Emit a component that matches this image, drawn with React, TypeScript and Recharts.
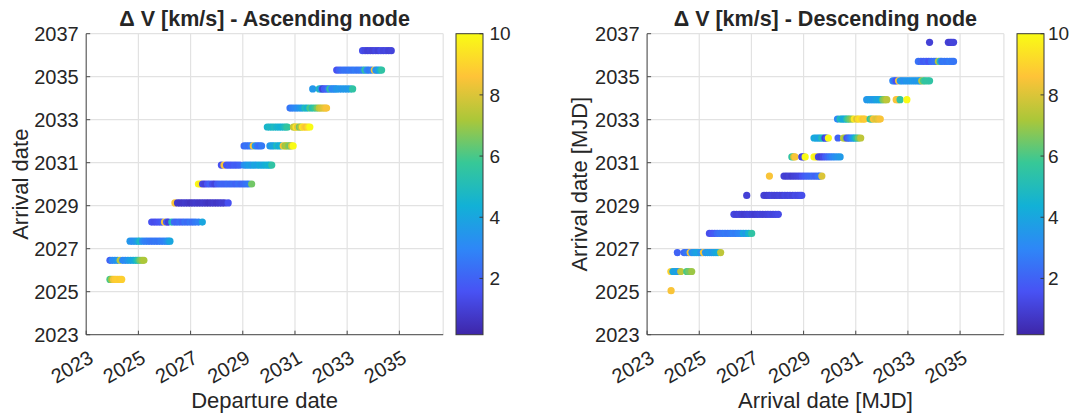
import React from 'react';
import { ScatterChart, Scatter, XAxis, YAxis, CartesianGrid } from 'recharts';

// ---- data (years, delta-v in km/s) ----
const yearTicks = [2023, 2025, 2027, 2029, 2031, 2033, 2035, 2037];
const depTicks = [2023, 2025, 2027, 2029, 2031, 2033, 2035];
const cbTicks = [2, 4, 6, 8, 10];

const ascArrival = [2025.57, 2026.46, 2027.35, 2028.24, 2029.13, 2030.01, 2030.89, 2031.78, 2032.66, 2033.54, 2034.43, 2035.31, 2036.21];
const ascDeparture = [
  [2023.91, 2023.98, 2024.05, 2024.12, 2024.2, 2024.28, 2024.36],
  [2023.91, 2024.0, 2024.1, 2024.2, 2024.3, 2024.4, 2024.5, 2024.6, 2024.7, 2024.8, 2024.9, 2024.98, 2025.06, 2025.14, 2025.21],
  [2024.68, 2024.78, 2024.88, 2024.98, 2025.06, 2025.16, 2025.26, 2025.36, 2025.46, 2025.56, 2025.66, 2025.76, 2025.86, 2025.96, 2026.06, 2026.14, 2026.21],
  [2025.51, 2025.61, 2025.71, 2025.81, 2025.9, 2026.0, 2026.08, 2026.15, 2026.28, 2026.38, 2026.48, 2026.58, 2026.68, 2026.78, 2026.88, 2026.98, 2027.08, 2027.18, 2027.3, 2027.45],
  [2026.4, 2026.5, 2026.6, 2026.7, 2026.8, 2026.9, 2027.0, 2027.1, 2027.2, 2027.3, 2027.4, 2027.5, 2027.6, 2027.7, 2027.8, 2027.9, 2028.0, 2028.1, 2028.2, 2028.3, 2028.44],
  [2027.3, 2027.38, 2027.46, 2027.55, 2027.65, 2027.74, 2027.84, 2027.93, 2028.03, 2028.13, 2028.23, 2028.33, 2028.43, 2028.53, 2028.63, 2028.73, 2028.83, 2028.93, 2029.03, 2029.13, 2029.23, 2029.34],
  [2028.18, 2028.28, 2028.38, 2028.48, 2028.58, 2028.68, 2028.78, 2028.89, 2029.05, 2029.15, 2029.25, 2029.35, 2029.45, 2029.55, 2029.65, 2029.75, 2029.85, 2029.95, 2030.03, 2030.11],
  [2029.05, 2029.14, 2029.23, 2029.32, 2029.4, 2029.48, 2029.56, 2029.64, 2029.72, 2030.04, 2030.12, 2030.2, 2030.3, 2030.38, 2030.46, 2030.55, 2030.62, 2030.68, 2030.75, 2030.81, 2030.87, 2030.93],
  [2029.94, 2030.03, 2030.12, 2030.21, 2030.3, 2030.39, 2030.48, 2030.57, 2030.65, 2030.71, 2030.94, 2030.99, 2031.04, 2031.1, 2031.17, 2031.23, 2031.29, 2031.35, 2031.42, 2031.5, 2031.57],
  [2030.81, 2030.9, 2031.0, 2031.09, 2031.19, 2031.28, 2031.38, 2031.47, 2031.57, 2031.66, 2031.76, 2031.85, 2031.93, 2032.0, 2032.08, 2032.15, 2032.21],
  [2031.68, 2031.93, 2032.0, 2032.06, 2032.13, 2032.21, 2032.28, 2032.34, 2032.41, 2032.47, 2032.54, 2032.6, 2032.7, 2032.8, 2032.9, 2033.0, 2033.11, 2033.21],
  [2032.6, 2032.7, 2032.8, 2032.9, 2033.0, 2033.1, 2033.2, 2033.3, 2033.4, 2033.5, 2033.6, 2033.68, 2033.76, 2033.84, 2033.94, 2034.04, 2034.1, 2034.17, 2034.25, 2034.32],
  [2033.59, 2033.69, 2033.79, 2033.89, 2033.99, 2034.09, 2034.19, 2034.29, 2034.39, 2034.49, 2034.59, 2034.69],
];
const ascDeltaV = [
  [6.0, 7.2, 8.4, 8.8, 8.9, 8.8, 8.9],
  [2.0, 3.0, 3.2, 3.5, 7.5, 3.0, 3.1, 3.5, 3.9, 4.0, 4.6, 5.5, 6.5, 7.0, 7.2],
  [3.5, 3.2, 3.4, 3.8, 4.8, 3.2, 2.8, 2.7, 2.6, 2.5, 2.6, 2.5, 2.7, 2.8, 3.0, 3.4, 4.0],
  [1.5, 1.4, 1.5, 1.6, 1.8, 8.5, 1.8, 1.0, 5.0, 2.2, 2.0, 2.3, 2.0, 2.4, 2.2, 2.5, 2.3, 2.6, 2.8, 4.0],
  [8.5, 0.8, 0.7, 0.7, 0.8, 0.7, 0.6, 0.7, 0.8, 0.7, 0.7, 0.8, 0.7, 0.6, 0.7, 0.8, 0.7, 0.8, 0.9, 0.9, 1.5],
  [10, 9.5, 1.2, 1.0, 1.6, 2.0, 1.4, 1.1, 1.8, 2.0, 2.1, 2.0, 2.2, 2.1, 2.2, 2.0, 2.3, 2.1, 2.2, 2.4, 2.6, 6.5],
  [1.5, 8.5, 1.6, 1.8, 1.7, 1.9, 1.8, 2.0, 3.2, 3.5, 3.8, 3.6, 4.0, 3.8, 4.2, 4.0, 4.3, 4.5, 4.4, 5.5],
  [2.2, 2.5, 2.3, 2.8, 8.5, 3.5, 2.5, 2.3, 2.6, 3.5, 3.8, 4.0, 5.0, 4.2, 4.5, 8.5, 7.0, 7.2, 6.8, 6.5, 8.0, 10],
  [4.6, 4.8, 4.7, 4.9, 4.6, 4.5, 4.4, 4.8, 5.2, 5.6, 7.5, 7.8, 9.5, 8.2, 6.5, 7.5, 9.5, 9.0, 8.5, 9.2, 10],
  [2.5, 2.8, 3.0, 3.2, 3.5, 3.8, 5.0, 4.5, 6.0, 5.2, 5.8, 6.5, 7.5, 7.8, 8.0, 8.3, 8.5],
  [3.5, 5.0, 3.5, 1.0, 1.8, 2.0, 2.6, 5.5, 3.0, 3.0, 3.2, 3.5, 3.6, 3.4, 3.6, 3.5, 3.7, 5.5],
  [1.5, 2.0, 2.3, 2.5, 2.4, 2.6, 2.5, 2.7, 2.5, 2.6, 2.8, 5.5, 3.0, 2.6, 2.8, 8.5, 3.2, 3.5, 4.5, 5.5],
  [1.4, 1.2, 1.0, 1.1, 1.0, 1.2, 1.0, 1.3, 1.1, 1.2, 1.0, 1.1],
];

const descArrival = [2025.05, 2025.94, 2026.82, 2027.71, 2028.6, 2029.48, 2030.38, 2031.27, 2032.15, 2033.03, 2033.93, 2034.81, 2035.71, 2036.6];
const descDeparture = [
  [2023.92],
  [2023.91, 2023.99, 2024.07, 2024.15, 2024.22, 2024.29, 2024.52, 2024.6, 2024.71],
  [2024.16, 2024.42, 2024.5, 2024.58, 2024.65, 2024.72, 2024.8, 2024.88, 2024.96, 2025.04, 2025.1, 2025.16, 2025.24, 2025.32, 2025.4, 2025.48, 2025.56, 2025.64, 2025.72, 2025.82],
  [2025.39, 2025.49, 2025.59, 2025.69, 2025.79, 2025.89, 2025.99, 2026.09, 2026.19, 2026.29, 2026.39, 2026.49, 2026.59, 2026.69, 2026.79, 2026.89, 2027.01],
  [2026.33, 2026.43, 2026.53, 2026.63, 2026.73, 2026.83, 2026.93, 2027.03, 2027.13, 2027.23, 2027.33, 2027.43, 2027.53, 2027.63, 2027.73, 2027.83, 2027.93, 2028.03],
  [2026.82, 2027.48, 2027.58, 2027.68, 2027.78, 2027.88, 2027.98, 2028.08, 2028.18, 2028.28, 2028.38, 2028.48, 2028.58, 2028.68, 2028.78, 2028.86, 2028.93],
  [2027.69, 2028.25, 2028.35, 2028.45, 2028.55, 2028.65, 2028.75, 2028.85, 2028.95, 2029.05, 2029.15, 2029.25, 2029.35, 2029.45, 2029.55, 2029.62, 2029.7],
  [2028.55, 2028.62, 2028.67, 2028.93, 2029.0, 2029.06, 2029.4, 2029.49, 2029.57, 2029.66, 2029.75, 2029.84, 2029.93, 2030.02, 2030.11, 2030.2, 2030.3, 2030.4],
  [2029.4, 2029.48, 2029.56, 2029.63, 2029.7, 2029.77, 2029.82, 2029.88, 2029.95, 2030.32, 2030.53, 2030.6, 2030.66, 2030.72, 2030.78, 2030.85, 2030.91, 2030.97, 2031.04, 2031.11, 2031.19],
  [2030.3, 2030.4, 2030.47, 2030.53, 2030.6, 2030.66, 2030.72, 2030.78, 2030.86, 2030.94, 2031.04, 2031.1, 2031.17, 2031.23, 2031.29, 2031.35, 2031.55, 2031.62, 2031.68, 2031.75, 2031.81, 2031.88, 2031.94],
  [2031.42, 2031.5, 2031.58, 2031.66, 2031.74, 2031.82, 2031.9, 2031.97, 2032.04, 2032.12, 2032.19, 2032.55, 2032.62, 2032.7, 2032.96],
  [2032.42, 2032.49, 2032.55, 2032.64, 2032.71, 2032.78, 2032.86, 2032.94, 2033.02, 2033.1, 2033.18, 2033.26, 2033.34, 2033.42, 2033.47, 2033.53, 2033.6, 2033.66, 2033.75, 2033.83],
  [2033.4, 2033.5, 2033.6, 2033.7, 2033.8, 2033.9, 2034.0, 2034.08, 2034.17, 2034.24, 2034.3, 2034.4, 2034.5, 2034.6, 2034.68, 2034.75],
  [2033.83, 2034.55, 2034.62, 2034.68, 2034.75],
];
const descDeltaV = [
  [8.5],
  [9.0, 4.0, 3.8, 4.0, 3.5, 7.5, 6.0, 6.5, 7.0],
  [2.0, 2.2, 2.5, 2.6, 8.5, 3.2, 3.6, 3.8, 4.0, 3.6, 3.2, 8.5, 3.4, 3.6, 3.8, 3.5, 3.8, 4.0, 4.2, 7.5],
  [1.4, 1.6, 1.8, 2.2, 2.4, 2.5, 2.6, 2.5, 2.6, 2.8, 2.7, 2.9, 3.0, 4.0, 3.6, 4.5, 5.5],
  [1.2, 1.0, 1.1, 1.0, 0.9, 1.0, 1.1, 1.0, 0.9, 1.0, 1.1, 1.0, 1.0, 1.1, 1.2, 1.1, 1.2, 1.3],
  [1.0, 1.0, 0.9, 1.0, 1.1, 1.0, 1.0, 1.1, 1.0, 1.2, 1.1, 1.2, 1.1, 1.3, 1.2, 1.3, 1.4],
  [8.5, 1.0, 0.9, 1.0, 0.9, 1.0, 1.1, 1.2, 1.5, 1.8, 2.0, 2.1, 2.2, 2.0, 2.3, 2.5, 8.0],
  [5.5, 7.5, 8.5, 1.0, 1.2, 10, 10, 9.5, 1.2, 1.0, 1.3, 1.8, 2.2, 2.6, 2.9, 3.2, 3.4, 3.6],
  [4.0, 4.2, 3.8, 4.0, 5.0, 4.5, 1.0, 1.5, 10, 2.0, 7.5, 7.0, 1.5, 2.0, 2.5, 3.0, 3.5, 4.5, 5.5, 6.5, 7.5],
  [3.0, 5.0, 4.5, 4.0, 4.2, 5.5, 6.0, 6.5, 7.0, 9.5, 8.0, 9.0, 9.5, 9.0, 8.5, 8.8, 5.5, 6.5, 8.5, 8.2, 8.0, 8.3, 8.5],
  [3.5, 3.6, 3.8, 3.5, 3.7, 4.0, 3.8, 4.2, 6.5, 7.0, 7.5, 8.5, 8.5, 5.5, 10],
  [3.0, 2.5, 1.5, 8.5, 3.5, 3.5, 3.2, 3.6, 3.4, 3.5, 3.7, 3.5, 3.6, 3.4, 3.8, 7.5, 6.0, 5.5, 5.6, 5.5],
  [2.4, 2.2, 1.8, 2.0, 1.6, 2.2, 2.4, 2.5, 7.5, 5.0, 2.5, 2.6, 2.5, 2.7, 2.6, 2.5],
  [1.0, 1.0, 0.9, 1.0, 1.1],
];

const cMin = 0.16;
const cMax = 10;

// parula approximation
const parulaStops = [
  [0.2422, 0.1504, 0.6603],
  [0.281, 0.3228, 0.9579],
  [0.1786, 0.5289, 0.9682],
  [0.0689, 0.6948, 0.8394],
  [0.2161, 0.7843, 0.5923],
  [0.672, 0.7793, 0.2227],
  [0.997, 0.7659, 0.2199],
  [0.9769, 0.9839, 0.0805],
];
const toHex = (c: number[]) =>
  '#' + c.map((v) => Math.round(Math.max(0, Math.min(1, v)) * 255).toString(16).padStart(2, '0')).join('');
const parula = (v: number) => {
  const t = Math.max(0, Math.min(1, (v - cMin) / (cMax - cMin))) * (parulaStops.length - 1);
  const i = Math.min(Math.floor(t), parulaStops.length - 2);
  const f = t - i;
  const a = parulaStops[i], b = parulaStops[i + 1];
  return toHex([0, 1, 2].map((k) => a[k] + (b[k] - a[k]) * f));
};

const buildPoints = (arr: number[], dep: number[][], dv: number[][]) =>
  arr.flatMap((y, i) => dep[i].map((x, j) => ({ x, y, dv: dv[i][j] })));

const ascData = buildPoints(ascArrival, ascDeparture, ascDeltaV);
const descData = buildPoints(descArrival, descDeparture, descDeltaV);

const FONT = 'Liberation Sans, Arial, Helvetica, sans-serif';
const INK = '#262626';
const TICK_FS = 20;
const LABEL_FS = 22;

const Dot = (props: any) => (
  <circle cx={props.cx} cy={props.cy} r={3.6} fill={parula(props.payload.dv)} />
);

const XTick = ({ x, y, payload }: any) => (
  <text
    transform={`translate(${x + 8.5},${y + 27}) rotate(-30)`}
    textAnchor="end"
    fontSize={TICK_FS}
    fontFamily={FONT}
    fill={INK}
  >
    {payload.value}
  </text>
);

const W = 460;
const H = 419;

const Panel = ({ data, left, marginLeft, marginRight }: any) => (
  <div style={{ position: 'absolute', left, top: 0 }}>
    <ScatterChart
      width={W}
      height={H}
      margin={{ top: 33.7, right: marginRight, bottom: 24.3, left: marginLeft }}
    >
      <CartesianGrid stroke="#e2e2e2" strokeWidth={1.2} />
      <XAxis
        type="number"
        dataKey="x"
        domain={[2023, 2036.68]}
        ticks={depTicks}
        allowDataOverflow
        height={60}
        tickSize={-4}
        tickMargin={4}
        tick={<XTick />}
        stroke="#4a4a4a"
      />
      <YAxis
        type="number"
        dataKey="y"
        domain={[2023, 2037]}
        ticks={yearTicks}
        allowDataOverflow
        width={60}
        tickSize={-4}
        tickMargin={11.5}
        tick={{ fontSize: TICK_FS, fontFamily: FONT, fill: INK }}
        stroke="#4a4a4a"
      />
      <Scatter data={data} shape={<Dot />} isAnimationActive={false} />
    </ScatterChart>
  </div>
);

const Colorbar = ({ x, gap }: { x: number; gap: number }) => {
  const top = 33.7, bottom = 334.7, w = 27;
  const yOf = (v: number) => bottom - ((v - cMin) / (cMax - cMin)) * (bottom - top);
  return (
    <g>
      <rect x={x} y={top} width={w} height={bottom - top} fill="url(#parulaGrad)" stroke="#3a3a3a" strokeWidth={1} />
      {cbTicks.map((v) => (
        <g key={v}>
          <line x1={x + w - 3.5} x2={x + w} y1={yOf(v)} y2={yOf(v)} stroke="#3a3a3a" strokeWidth={1} />
          <text x={x + w + gap} y={yOf(v)} dy="0.35em" fontSize={19} fontFamily={FONT} fill={INK}>
            {v}
          </text>
        </g>
      ))}
    </g>
  );
};

export default function App() {
  return (
    <div style={{ position: 'absolute', left: 0, top: 0, width: 1071, height: 419, background: '#fff' }}>
      <Panel data={ascData} left={0} marginLeft={26.2} marginRight={16.8} />
      <Panel data={descData} left={560} marginLeft={27.1} marginRight={16.1} />
      <svg
        width={1071}
        height={419}
        style={{ position: 'absolute', left: 0, top: 0, pointerEvents: 'none' }}
      >
        <defs>
          <linearGradient id="parulaGrad" x1="0" y1="1" x2="0" y2="0">
            {parulaStops.map((c, i) => (
              <stop key={i} offset={i / (parulaStops.length - 1)} stopColor={toHex(c)} />
            ))}
          </linearGradient>
        </defs>
        <Colorbar x={456} gap={6.5} />
        <Colorbar x={1017} gap={4} />
        <g fontFamily={FONT} fill={INK}>
          <text x={264.6} y={25.5} textAnchor="middle" fontSize={21.5} fontWeight="bold">
            Δ V [km/s] - Ascending node
          </text>
          <text x={825.4} y={25.5} textAnchor="middle" fontSize={21.5} fontWeight="bold">
            Δ V [km/s] - Descending node
          </text>
          <text x={264.6} y={408} textAnchor="middle" fontSize={LABEL_FS}>
            Departure date
          </text>
          <text x={825.4} y={408} textAnchor="middle" fontSize={LABEL_FS}>
            Arrival date [MJD]
          </text>
          <text transform="translate(27.5,184.2) rotate(-90)" textAnchor="middle" fontSize={LABEL_FS}>
            Arrival date
          </text>
          <text transform="translate(587,184.2) rotate(-90)" textAnchor="middle" fontSize={LABEL_FS}>
            Arrival date [MJD]
          </text>
        </g>
      </svg>
    </div>
  );
}
